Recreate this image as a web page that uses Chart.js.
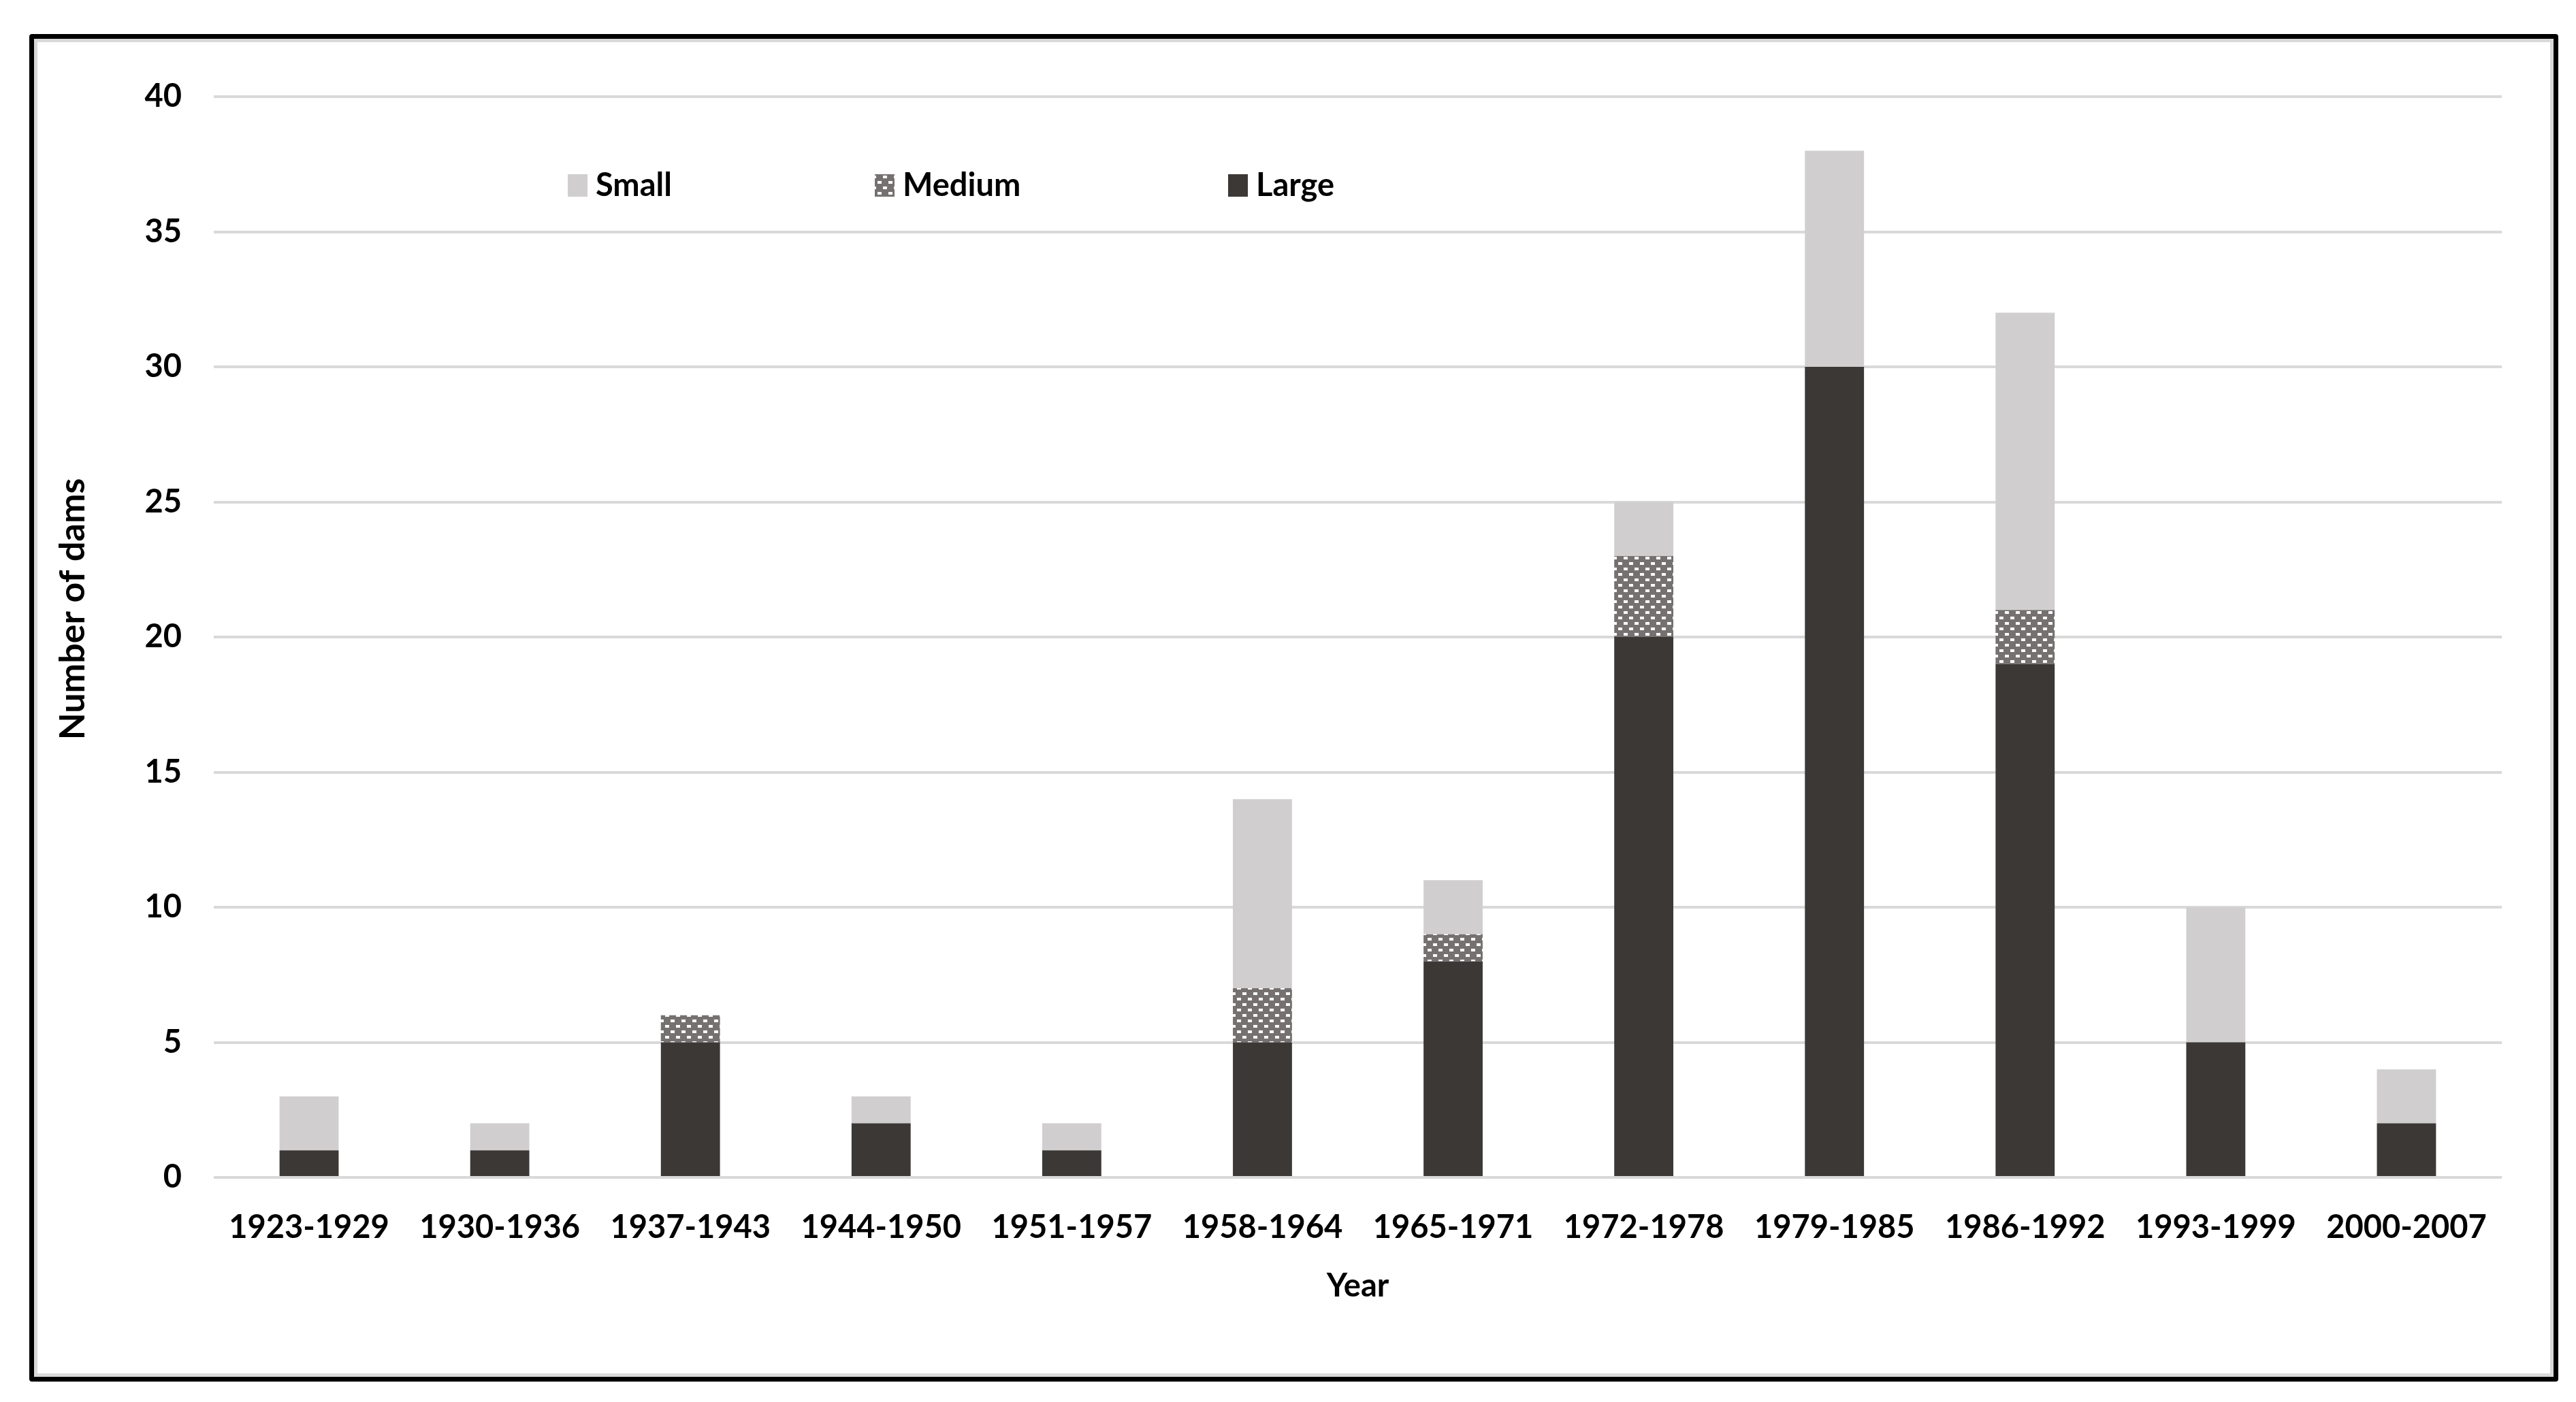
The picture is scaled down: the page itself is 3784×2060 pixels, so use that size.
<!DOCTYPE html>
<html>
<head>
<meta charset="utf-8">
<title>Number of dams by period</title>
<script src="https://cdn.jsdelivr.net/npm/chart.js@4.4.1/dist/chart.umd.min.js"></script>
<style>
  html, body { margin: 0; padding: 0; background: #fff; }
  #wrap { position: relative; width: 3784px; height: 2060px; }
  #frame {
    position: absolute; left: 43px; top: 50px; width: 3715px; height: 1980px;
    box-sizing: border-box; border: 7px solid #000; border-radius: 4px;
    box-shadow: inset 0 0 0 5px #d9d9d9; pointer-events: none;
  }
</style>
</head>
<body>
<div id="wrap">
  <canvas id="damChart" width="3784" height="2060"></canvas>
  <div id="frame"></div>
</div>
<script>
// ===== DATA =====
const periods = ["1923-1929", "1930-1936", "1937-1943", "1944-1950", "1951-1957", "1958-1964",
                 "1965-1971", "1972-1978", "1979-1985", "1986-1992", "1993-1999", "2000-2007"];
const largeDams  = [1, 1, 5, 2, 1, 5, 8, 20, 30, 19, 5, 2];
const mediumDams = [0, 0, 1, 0, 0, 2, 1, 3, 0, 2, 0, 0];
const smallDams  = [2, 1, 0, 1, 1, 7, 2, 2, 8, 11, 5, 2];
const yTicks = [0, 5, 10, 15, 20, 25, 30, 35, 40];
const yTitle = "Number of dams";

const FONT = "Lato";

// --- hatched fill for the Medium series ---
function makeMediumPattern() {
  const c = document.createElement("canvas");
  c.width = 16; c.height = 16;
  const g = c.getContext("2d");
  g.fillStyle = "#767171";
  g.fillRect(0, 0, 16, 16);
  g.fillStyle = "#ffffff";
  g.fillRect(1, 2, 6, 4);
  g.fillRect(9, 10, 6, 4);
  return g.createPattern(c, "repeat");
}

// --- legend inside the plot area (Small, Medium, Large) + y title ---
const LEGEND_X = [834, 1285, 1804];
const extraText = {
  id: "extraText",
  afterDatasetsDraw(chart) {
    const ctx = chart.ctx;
    const items = chart.data.datasets.slice().reverse();
    ctx.save();
    ctx.font = "bold 47px " + FONT;
    ctx.textBaseline = "middle";
    ctx.textAlign = "left";
    items.forEach((ds, i) => {
      const x = LEGEND_X[i];
      ctx.fillStyle = ds.backgroundColor;
      ctx.fillRect(x, 256, 29, 33);
      ctx.fillStyle = "#000";
      ctx.fillText(ds.label, x + 41, 273);
    });

    // y axis title (Excel puts it a bit above the plot middle)
    ctx.translate(107, 895);
    ctx.rotate(-Math.PI / 2);
    ctx.font = "bold 52px " + FONT;
    ctx.textAlign = "center";
    ctx.fillText(yTitle, 0, 0);
    ctx.restore();
  }
};

// ===== CHART =====
const ctx = document.getElementById("damChart").getContext("2d");
new Chart(ctx, {
  type: "bar",
  data: {
    labels: periods,
    datasets: [
      { label: "Large",  data: largeDams,  backgroundColor: "#3b3836" },
      { label: "Medium", data: mediumDams, backgroundColor: makeMediumPattern() },
      { label: "Small",  data: smallDams,  backgroundColor: "#d0cece" },
    ],
  },
  options: {
    responsive: false,
    animation: false,
    devicePixelRatio: 1,
    layout: { padding: { left: 0, top: 142, right: 109, bottom: 0 } },
    datasets: { bar: { categoryPercentage: 1, barPercentage: 0.31, borderWidth: 0 } },
    plugins: { legend: { display: false }, tooltip: { enabled: false } },
    scales: {
      x: {
        stacked: true,
        grid: { display: false, drawTicks: false },
        border: { display: false },
        ticks: { color: "#000", padding: 46, font: { family: FONT, size: 47, weight: "bold" }, maxRotation: 0 },
        title: { display: true, text: "Year", color: "#000", padding: { top: 0, bottom: 142 },
                 font: { family: FONT, size: 47, weight: "bold" } },
        afterFit(scale) { scale.height = 2060 - 1730; },
      },
      y: {
        stacked: true,
        min: 0,
        max: 40,
        afterBuildTicks(scale) { scale.ticks = yTicks.map(v => ({ value: v })); },
        grid: { color: "#d9d9d9", lineWidth: 4, drawTicks: false },
        border: { display: false },
        ticks: { color: "#000", padding: 47, font: { family: FONT, size: 47, weight: "bold" } },
        afterFit(scale) { scale.width = 314; },
      },
    },
  },
  plugins: [extraText],
});
</script>
</body>
</html>
